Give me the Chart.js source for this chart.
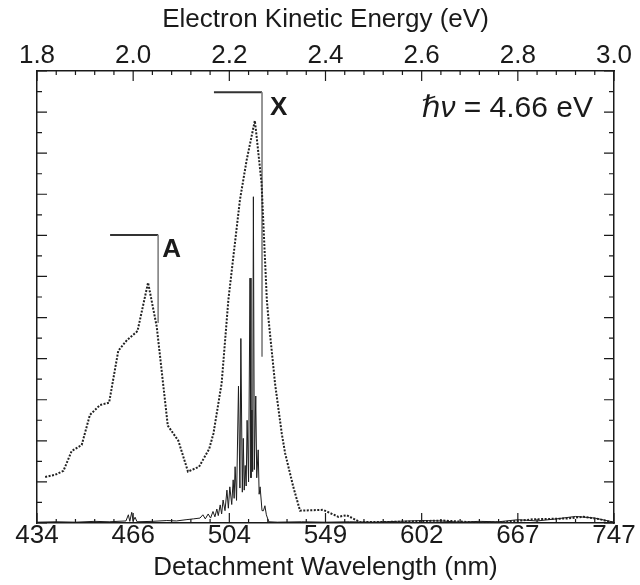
<!DOCTYPE html>
<html>
<head>
<meta charset="utf-8">
<script src="https://cdn.jsdelivr.net/npm/chart.js@4.4.0/dist/chart.umd.min.js"></script>
<style>
    html, body { margin: 0; padding: 0; background: #fff; }
    #wrap { width: 640px; height: 585px; }
</style>
</head>
<body>
<div id="wrap"><canvas id="spectrum" width="640" height="585"></canvas></div>
<script>
// axis ticks: top is electron kinetic energy, bottom is the same position as wavelength
var energyTicks = [1.8, 2.0, 2.2, 2.4, 2.6, 2.8, 3.0];
var energyLabels = ['1.8', '2.0', '2.2', '2.4', '2.6', '2.8', '3.0'];
var wavelengthLabels = ['434', '466', '504', '549', '602', '667', '747'];

// low resolution spectrum (dotted trace)
var lowResEnergy = [1.817, 1.837, 1.855, 1.872, 1.893, 1.910, 1.931, 1.950, 1.969, 1.987,
    2.009, 2.031, 2.049, 2.072, 2.094, 2.114, 2.137, 2.158, 2.167, 2.184,
    2.198, 2.222, 2.236, 2.253, 2.256, 2.267, 2.278, 2.281, 2.295, 2.309,
    2.316, 2.333, 2.347, 2.395, 2.427, 2.444, 2.472, 2.555, 2.644, 2.715,
    2.763, 2.832, 2.902, 2.936, 2.971, 2.998];
var lowResSignal = [1.12, 1.17, 1.27, 1.75, 1.90, 2.63, 2.87, 2.93, 4.19, 4.45,
    4.67, 5.85, 4.78, 2.37, 2.00, 1.25, 1.37, 1.80, 2.18, 3.40,
    5.43, 7.86, 8.83, 9.79, 9.49, 8.27, 5.43, 5.02, 3.40, 2.18,
    1.70, 0.88, 0.30, 0.32, 0.15, 0.19, 0.02, 0.03, 0.06, 0.01,
    0.01, 0.09, 0.11, 0.15, 0.09, 0.01];

// high resolution spectrum (solid trace)
var highResEnergy = [1.800, 1.840, 1.880, 1.920, 1.950, 1.985, 1.990, 1.993, 1.997, 2.000,
    2.004, 2.008, 2.040, 2.070, 2.090, 2.110, 2.125, 2.139, 2.145, 2.150,
    2.156, 2.161, 2.166, 2.170, 2.174, 2.177, 2.181, 2.184, 2.187, 2.191,
    2.195, 2.198, 2.201, 2.205, 2.208, 2.210, 2.212, 2.215, 2.219, 2.222,
    2.224, 2.227, 2.229, 2.231, 2.233, 2.235, 2.237, 2.240, 2.243, 2.245,
    2.247, 2.2485, 2.250, 2.252, 2.255, 2.257, 2.260, 2.262, 2.264, 2.268,
    2.271, 2.274, 2.277, 2.282, 2.300, 2.350, 2.400, 2.450, 2.500, 2.550,
    2.600, 2.640, 2.680, 2.720, 2.760, 2.800, 2.840, 2.880, 2.920, 2.960, 3.000];
var highResSignal = [0.02, 0.03, 0.02, 0.04, 0.03, 0.05, 0.20, 0.04, 0.26, 0.05,
    0.14, 0.03, 0.04, 0.06, 0.05, 0.08, 0.10, 0.12, 0.20, 0.10,
    0.22, 0.12, 0.28, 0.15, 0.34, 0.18, 0.44, 0.22, 0.56, 0.30,
    0.80, 0.36, 0.88, 0.45, 1.05, 0.60, 1.37, 0.55, 3.33, 0.85,
    4.49, 0.75, 2.06, 0.80, 1.40, 0.90, 2.50, 1.00, 5.96, 1.10,
    2.75, 1.25, 7.94, 1.30, 3.09, 1.10, 1.78, 0.70, 0.88, 0.30,
    0.30, 0.42, 0.20, 0.03, 0.02, 0.03, 0.02, 0.03, 0.02, 0.04,
    0.06, 0.05, 0.02, 0.04, 0.03, 0.08, 0.05, 0.10, 0.16, 0.12, 0.02];

// assignment brackets for the A and X states
var bracketAEnergy = [1.952, 2.052, 2.052];
var bracketASignal = [7.01, 7.01, 4.87];
var bracketXEnergy = [2.168, 2.268, 2.268];
var bracketXSignal = [10.48, 10.48, 4.05];

var fontFamily = "'Liberation Sans', Arial, 'DejaVu Sans', sans-serif";
var ink = '#1a1a1a';

function points(xs, ys) {
    return xs.map(function (x, i) { return { x: x, y: ys[i] }; });
}

// ticks pointing into the frame, plus the text labels
var insideTicks = {
    id: 'insideTicks',
    afterDatasetsDraw: function (chart) {
        var ctx = chart.ctx;
        var a = chart.chartArea;
        var sx = chart.scales.x;
        var sy = chart.scales.y;
        ctx.save();
        ctx.strokeStyle = ink;
        ctx.lineWidth = 1.2;
        ctx.beginPath();
        for (var k = 0; k <= 30; k++) {
            var px = sx.getPixelForValue(1.8 + k * 0.04);
            var len = k % 5 === 0 ? 10 : 4;
            ctx.moveTo(px, a.top); ctx.lineTo(px, a.top + len);
            ctx.moveTo(px, a.bottom); ctx.lineTo(px, a.bottom - len);
        }
        for (var j = 0; j <= 22; j++) {
            var py = sy.getPixelForValue(j * 0.5);
            var l = j % 2 === 0 ? 10 : 5;
            ctx.moveTo(a.left, py); ctx.lineTo(a.left + l, py);
            ctx.moveTo(a.right, py); ctx.lineTo(a.right - l, py);
        }
        ctx.stroke();

        ctx.fillStyle = ink;
        ctx.textBaseline = 'alphabetic';
        ctx.font = 'bold 26px ' + fontFamily;
        ctx.textAlign = 'left';
        ctx.fillText('A', sx.getPixelForValue(bracketAEnergy[1]) + 4, sy.getPixelForValue(bracketASignal[0]) + 22);
        ctx.fillText('X', sx.getPixelForValue(bracketXEnergy[1]) + 8, sy.getPixelForValue(bracketXSignal[0]) + 23);

        ctx.font = '30px ' + fontFamily;
        ctx.textAlign = 'right';
        var tail = ' = 4.66 eV';
        var xr = a.right - 21;
        var yb = a.top + 46;
        ctx.fillText(tail, xr, yb);
        var w = ctx.measureText(tail).width;
        ctx.font = 'italic 30px ' + fontFamily;
        ctx.fillText('\u210Fν', xr - w, yb);
        ctx.restore();
    }
};

var ctx = document.getElementById('spectrum').getContext('2d');

var myChart = new Chart(ctx, {
    type: 'scatter',
    data: {
        datasets: [{
            label: 'high resolution',
            data: points(highResEnergy, highResSignal),
            showLine: true,
            borderColor: '#1c1c1c',
            borderWidth: 1,
            pointRadius: 0,
            tension: 0
        }, {
            label: 'low resolution',
            data: points(lowResEnergy, lowResSignal),
            showLine: true,
            borderColor: '#222',
            borderWidth: 2,
            borderDash: [2, 1.5],
            pointRadius: 0,
            tension: 0
        }, {
            label: 'A',
            data: points(bracketAEnergy, bracketASignal),
            showLine: true,
            pointRadius: 0,
            segment: {
                borderColor: function (c) { return c.p0DataIndex === 0 ? '#333' : '#888'; },
                borderWidth: function (c) { return c.p0DataIndex === 0 ? 2 : 1; }
            }
        }, {
            label: 'X',
            data: points(bracketXEnergy, bracketXSignal),
            showLine: true,
            pointRadius: 0,
            segment: {
                borderColor: function (c) { return c.p0DataIndex === 0 ? '#333' : '#888'; },
                borderWidth: function (c) { return c.p0DataIndex === 0 ? 2 : 1; }
            }
        }]
    },
    options: {
        responsive: false,
        animation: false,
        layout: { padding: 0 },
        plugins: {
            legend: { display: false },
            tooltip: { enabled: false }
        },
        scales: {
            x: {
                type: 'linear',
                position: 'top',
                min: 1.8,
                max: 3.0,
                afterBuildTicks: function (s) { s.ticks = energyTicks.map(function (v) { return { value: v }; }); },
                afterFit: function (s) { s.height = 71; },
                ticks: {
                    callback: function (v, i) { return energyLabels[i]; },
                    font: { family: fontFamily, size: 26, lineHeight: 1 },
                    color: ink,
                    padding: 2,
                    maxRotation: 0,
                    autoSkip: false
                },
                grid: { display: false, drawTicks: false },
                border: { color: ink, width: 1.5 },
                title: {
                    display: true,
                    text: 'Electron Kinetic Energy (eV)',
                    color: ink,
                    font: { family: fontFamily, size: 26, lineHeight: 1 },
                    padding: { top: 7, bottom: 0 }
                }
            },
            x2: {
                type: 'linear',
                position: 'bottom',
                min: 1.8,
                max: 3.0,
                afterBuildTicks: function (s) { s.ticks = energyTicks.map(function (v) { return { value: v }; }); },
                afterFit: function (s) { s.height = 62; },
                ticks: {
                    callback: function (v, i) { return wavelengthLabels[i]; },
                    font: { family: fontFamily, size: 26, lineHeight: 1 },
                    color: ink,
                    padding: 0,
                    maxRotation: 0,
                    autoSkip: false
                },
                grid: { display: false, drawTicks: false },
                border: { color: ink, width: 1.5 },
                title: {
                    display: true,
                    text: 'Detachment Wavelength (nm)',
                    color: ink,
                    font: { family: fontFamily, size: 26, lineHeight: 1 },
                    padding: { top: 0, bottom: 4 }
                }
            },
            y: {
                position: 'left',
                min: 0,
                max: 11,
                afterFit: function (s) { s.width = 37; },
                ticks: { display: false },
                grid: { display: false, drawTicks: false },
                border: { color: ink, width: 1.5 }
            },
            y2: {
                position: 'right',
                min: 0,
                max: 11,
                afterFit: function (s) { s.width = 26; },
                ticks: { display: false },
                grid: { display: false, drawTicks: false },
                border: { color: ink, width: 1.5 }
            }
        }
    },
    plugins: [insideTicks]
});
</script>
</body>
</html>
